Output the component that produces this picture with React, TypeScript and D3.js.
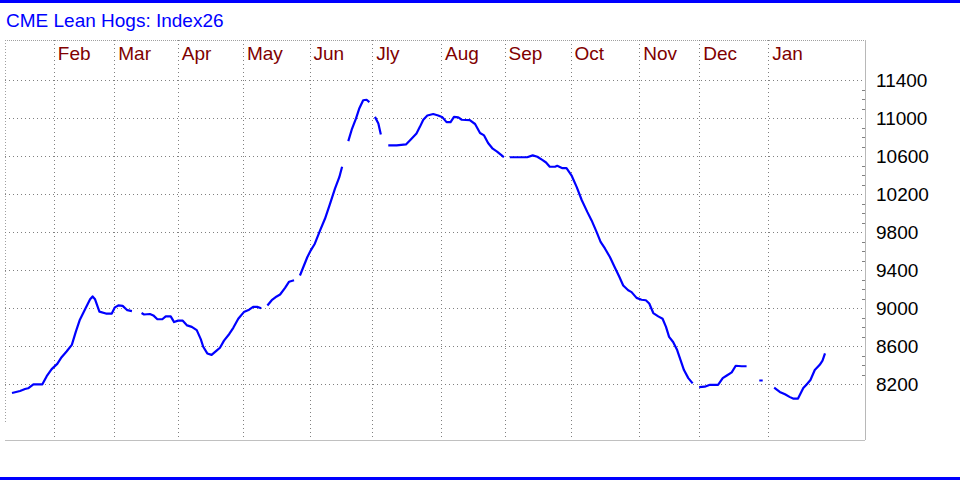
import * as d3 from 'd3';

// trading-day index and CME Lean Hogs Index26 value (null = no data)
const days = [
  0, 2.6, 4.2, 5.2, 6.9, 9.8, 11.2, 12.8, 14.6, 16.0, 17.6, 19.3, 20.6, 21.9, 23.9, 25.2, 26.0, 26.8,
  28.2, 30.3, 32.2, 33.2, 34.3, 35.7, 37.2, 38.7, 40,
  41.8, 42.6, 44.5, 45.6, 46.9, 48.5, 49.6, 51.2, 52.3, 53.6, 55.1, 56.5, 58.0, 59.6, 60.9, 61.7,
  63.0, 64.4, 66.0, 67.1, 68.4, 70.1, 71.4, 73.0, 74.8, 76.5, 77.8, 79.1, 80.4, 81.4,
  82.4, 83.8, 85.4, 86.5, 88.1, 89.4, 91.0, 92,
  92.9, 94.0, 95.3, 96.4, 97.7, 99.4, 101.0, 102.6, 104.2, 105.6, 106.5, 107.5,
  108.5, 109.6, 111.0, 112.0, 113.3, 114.4, 115.3, 116.2,
  117.1, 118.2, 119.0, 120.2,
  121.4, 124.1, 127.1, 128.9, 130.5, 131.6, 132.7, 134.0, 135.9, 137.5, 138.9, 140.2, 141.5, 142.6,
  144.0, 145.1, 147.7, 149.4, 151.0, 152.3, 153.6, 155.1, 156.5, 158.0, 158.7, 159.6,
  160.6, 163.9, 166.2, 168.0, 169.5, 171.2, 172.3, 173.5, 175.2, 175.9, 177.6, 178.9, 180.5, 182.2,
  183.8, 185.6, 187.0, 188.6, 189.9, 191.3, 192.9, 194.5, 195.9, 197.2, 198.8, 199.9, 201.5, 203.1,
  204.5, 205.6, 206.9, 208.5, 209.9, 211.0, 212.0, 213.3, 214.6, 215.7, 216.8, 218.2, 219.6, 220.6,
  221.7, 223.5, 225.2, 227.8, 229.3, 230.5, 232.2, 233.5, 235.4, 237.0, 239,
  241.1, 242.2, 244,
  245.9, 247.7, 249.4, 251.0, 252.0, 253.6, 255.3, 256.3, 257.6, 259.0, 260.6, 261.5, 262.3,
];
const index26: (number | null)[] = [
  8108, 8130, 8150, 8158, 8200, 8200, 8285, 8360, 8415, 8485, 8545, 8615, 8755, 8880, 9010, 9095, 9125, 9095,
  8965, 8945, 8945, 9010, 9030, 9025, 8980, 8970, null,
  8950, 8935, 8940, 8925, 8885, 8885, 8915, 8915, 8855, 8870, 8870, 8820, 8805, 8770, 8675, 8595,
  8525, 8510, 8555, 8585, 8660, 8730, 8795, 8890, 8960, 8985, 9015, 9015, 9000, null,
  9030, 9085, 9125, 9145, 9215, 9280, 9295, null,
  9345, 9435, 9540, 9610, 9680, 9820, 9945, 10100, 10260, 10380, 10490, null,
  10760, 10880, 11000, 11100, 11190, 11195, 11170, null,
  11015, 10945, 10830, null,
  10715, 10715, 10725, 10785, 10840, 10910, 10985, 11030, 11045, 11030, 11010, 10960, 10960, 11015,
  11010, 10985, 10980, 10940, 10845, 10820, 10740, 10680, 10650, 10610, 10590, null,
  10590, 10590, 10590, 10610, 10595, 10560, 10535, 10490, 10490, 10500, 10475, 10475, 10400, 10275,
  10140, 10015, 9925, 9805, 9700, 9630, 9540, 9430, 9335, 9240, 9190, 9170, 9110, 9090,
  9085, 9050, 8950, 8915, 8890, 8805, 8700, 8645, 8560, 8455, 8350, 8265, 8210, null,
  8170, 8175, 8195, 8195, 8265, 8290, 8325, 8395, 8390, 8390, null,
  8240, 8240, null,
  8165, 8120, 8095, 8065, 8050, 8050, 8160, 8195, 8245, 8350, 8405, 8450, 8525,
];

const months = ['Feb', 'Mar', 'Apr', 'May', 'Jun', 'Jly', 'Aug', 'Sep', 'Oct', 'Nov', 'Dec', 'Jan'];
const monthStarts = [13.5, 33, 53.5, 74.5, 96, 116.2, 138.4, 158.9, 180.2, 202.4, 221.7, 244];
const yTicks = [8200, 8600, 9000, 9400, 9800, 10200, 10600, 11000, 11400];

const W = 960;
const H = 480;
const left = 5;
const right = 865;
const top = 40;
const bottom = 440;
const font = '"Liberation Sans", Arial, sans-serif';

export default function App() {
  const x = d3.scaleLinear().domain([0, 262.3]).range([12, 825]);
  const y = d3.scaleLinear().domain([8200, 11400]).range([384.3, 80.3]);

  const pts = days.map((d, i) => ({ d, v: index26[i] }));
  const line = d3
    .line<{ d: number; v: number | null }>()
    .defined((p) => p.v !== null)
    .x((p) => x(p.d))
    .y((p) => y(p.v as number));

  const minor = d3.range(8300, 11400, 100).filter((v) => (v - 8200) % 400 !== 0);

  return (
    <svg width={W} height={H} style={{ position: 'absolute', left: 0, top: 0, background: '#fff' }}>
      <rect x={0} y={0} width={W} height={3} fill="#0000ff" />
      <rect x={0} y={477} width={W} height={3} fill="#0000ff" />
      <text x={6} y={27} fontFamily={font} fontSize={19} fill="#0000ff">
        CME Lean Hogs: Index26
      </text>

      {/* frame */}
      <line x1={left} x2={right} y1={top + 0.5} y2={top + 0.5} stroke="#a0a0a0" strokeDasharray="1,1" />
      <line x1={left + 0.5} x2={left + 0.5} y1={top} y2={422} stroke="#a0a0a0" strokeDasharray="1,2" />
      <line x1={left} x2={right} y1={bottom + 0.5} y2={bottom + 0.5} stroke="#c0c0c0" />
      <line x1={right + 0.5} x2={right + 0.5} y1={top} y2={bottom} stroke="#b8b8b8" />

      {/* horizontal grid + labels */}
      {yTicks.map((v) => (
        <g key={v}>
          <line
            x1={left}
            x2={right - 3}
            y1={Math.round(y(v)) + 0.5}
            y2={Math.round(y(v)) + 0.5}
            stroke="#808080"
            strokeDasharray="1,3"
          />
          <text x={876} y={y(v)} dy="0.35em" fontFamily={font} fontSize={19} fill="#000">
            {v}
          </text>
        </g>
      ))}
      {minor.map((v) => (
        <line
          key={v}
          x1={right - 3}
          x2={right}
          y1={Math.round(y(v)) + 0.5}
          y2={Math.round(y(v)) + 0.5}
          stroke="#808080"
        />
      ))}

      {/* month grid + labels */}
      {monthStarts.map((m, i) => (
        <g key={months[i]}>
          <line
            x1={Math.round(x(m)) + 0.5}
            x2={Math.round(x(m)) + 0.5}
            y1={top}
            y2={bottom}
            stroke="#808080"
            strokeDasharray="1,3"
          />
          <text x={x(m) + 4} y={60} fontFamily={font} fontSize={19} fill="#800000">
            {months[i]}
          </text>
        </g>
      ))}

      <path d={line(pts) ?? ''} fill="none" stroke="#0000ff" strokeWidth={2.2} strokeLinejoin="round" />
    </svg>
  );
}
